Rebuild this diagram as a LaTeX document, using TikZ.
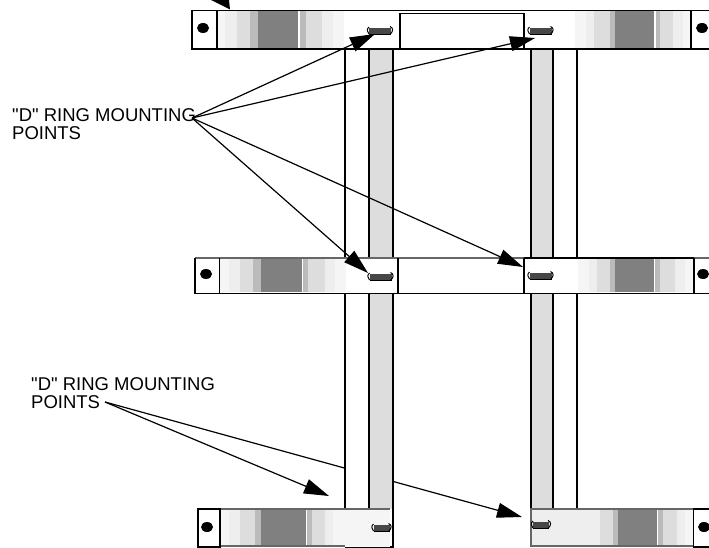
\documentclass[tikz,border=0pt]{standalone}
\usepackage{fontspec}
\newfontfamily\lblfont{Liberation Sans}
\usetikzlibrary{arrows.meta,shapes.geometric}
\definecolor{bandA}{HTML}{F5F5F5}
\definecolor{bandB}{HTML}{EEEEEE}
\definecolor{bandC}{HTML}{DDDDDD}
\definecolor{bandD}{HTML}{BBBBBB}
\definecolor{bandE}{HTML}{808080}
\definecolor{strapfill}{HTML}{DDDDDD}
\tikzset{
  heavy/.style={draw=black,line width=1.3pt},
  softline/.style={draw=black!60,line width=1.1pt},
  strapline/.style={draw=black,line width=1.3pt},
  leader/.style={draw=black,line width=1.2pt,-{Triangle[length=25pt,width=15pt]}},
  lbl/.style={font=\lblfont\fontsize{18.5}{17.5}\selectfont,align=left,anchor=north west,inner sep=0pt},
  dot/.style={ellipse,fill=black,draw=none,minimum width=12pt,minimum height=10pt,inner sep=0pt}
}
\newcommand{\bandset}[3]{\foreach \xa/\xb/\cc in {#3}{\fill[\cc] (\xa,#1) rectangle (\xb,#2);}}
\newcommand{\dring}[3]{%
  \begin{scope}[shift={(#1,#2)}]
    \fill[black!72] (-#3,-3) rectangle (#3,3);
    \draw[black,line width=.7pt] (-#3,3) -- (#3,3);
    \draw[black,line width=1pt] (-#3,-4) .. controls ({-#3-2.5},-2) and ({-#3-2},1) .. (-#3,3);
    \draw[black,line width=1pt] (#3-1,-4.5) .. controls ({#3+2.5},-3) and ({#3+2.5},0) .. (#3-1,3.5);
  \end{scope}}
\begin{document}
\begin{tikzpicture}[x=1pt,y=-1pt]
\useasboundingbox (0,0) rectangle (709,548);
% bottom leader passing behind the strap
\coordinate (hubB) at (105,402);
\coordinate (hubA) at (192,118);
\coordinate (tipBR) at (522,517);
\draw[leader] (hubB) -- (tipBR);
% straps
\foreach \ya/\yb in {49/258,293/509}{
  \fill[white] (345,\ya) rectangle (393,\yb);
  \fill[strapfill] (369,\ya) rectangle (393,\yb);
  \fill[white] (553,\ya) rectangle (577,\yb);
  \fill[strapfill] (531,\ya) rectangle (553,\yb);
  \foreach \xx in {345,369,393,531,553,577}{\draw[strapline] (\xx,\ya) -- (\xx,\yb);}
}
\draw[strapline] (393,509) -- (393,547) -- (345,547);
% top bar
\fill[white] (192,10) rectangle (709,49);
\bandset{11}{48}{218/225/bandA,225/237/bandB,237/250/bandC,250/258/bandD,258/298/bandE,300/306/bandD,306/322/bandC,322/333/bandB,333/344/bandA,575/586/bandA,586/594/bandB,594/610/bandC,610/615/bandD,615/654/bandE,656/660/bandD,660/673/bandC,673/683/bandB,683/690/bandA}
\draw[heavy] (709,10.5) -- (192,10.5) -- (192,49) -- (709,49);
\draw[heavy] (217,10.5) -- (217,49);
\draw[heavy] (691,10.5) -- (691,49);
\draw[heavy] (400,49) -- (400,13.5) -- (524,13.5) -- (524,49);
% middle bar
\fill[white] (195,258) rectangle (709,293);
\bandset{259}{292}{220/229/bandA,229/240/bandB,240/253/bandC,253/261/bandD,261/302/bandE,303/308/bandD,308/325/bandC,325/335/bandB,335/346/bandA,578/589/bandA,589/597/bandB,597/610/bandC,610/615/bandD,615/654/bandE,655/660/bandD,660/675/bandC,675/685/bandB,685/693/bandA}
\draw[softline] (709,258) -- (195,258);
\draw[heavy] (195,258) -- (195,293.5) -- (709,293.5);
\draw[heavy] (219.5,258) -- (219.5,293.5);
\draw[heavy] (398,258) -- (398,293.5);
\draw[heavy] (524,258) -- (524,293.5);
\draw[heavy] (694,258) -- (694,293.5);
\draw[heavy] (524,258) -- (694,258);
% bottom left bar
\fill[white] (198,509) rectangle (390,547);
\bandset{509}{546}{221/229/bandA,229/240/bandB,240/255/bandC,255/261/bandD,261/306/bandE,307/312/bandD,312/325/bandC,325/333/bandB,333/390/bandA}
\draw[softline] (220,509) -- (390,509);
\draw[softline] (220,546) -- (345,546);
\draw[heavy] (198,509) rectangle (220,547);
% bottom right bar
\fill[white] (531,509) rectangle (709,547);
\bandset{509}{546}{531/600/bandB,600/613/bandC,613/618/bandD,618/657/bandE,658/663/bandD,663/677/bandC,677/685/bandB,685/693/bandA}
\draw[softline] (693,509) -- (531,509) -- (531,546) -- (693,546);
\draw[heavy] (709,509) -- (693.5,509) -- (693.5,547) -- (709,547);
% fasteners
\node[dot] (d1) at (203,28) {};
\node[dot] (d2) at (702,28) {};
\node[dot] (d3) at (206,274) {};
\node[dot] (d4) at (703,274) {};
\node[dot] (d5) at (207,527) {};
\node[dot] (d6) at (704,527) {};
% D rings
\dring{380}{31}{11}
\dring{540.5}{31}{11}
\dring{380.5}{277}{11}
\dring{540.5}{276}{11}
\dring{381.5}{528}{8}
\dring{541}{525}{8}
% labels
\node[lbl] (lab1) at (12,108.5) {"D" RING MOUNTING\\POINTS};
\node[lbl] (lab2) at (31,377.5) {"D" RING MOUNTING\\POINTS};
% leaders
\coordinate (tipTL) at (375,34);
\coordinate (tipTR) at (535,38);
\coordinate (tipML) at (368,273);
\coordinate (tipMR) at (523,267);
\coordinate (tipBL) at (329,496);
\draw[leader] (hubA) -- (tipTL);
\draw[leader] (hubA) -- (tipTR);
\draw[leader] (hubA) -- (tipML);
\draw[leader] (hubA) -- (tipMR);
\draw[leader] (hubB) -- (tipBL);
% arrowhead of the cropped callout at the top
\fill[black] (211,0) -- (229,0) -- (230,9.5) -- cycle;
\end{tikzpicture}
\end{document}
